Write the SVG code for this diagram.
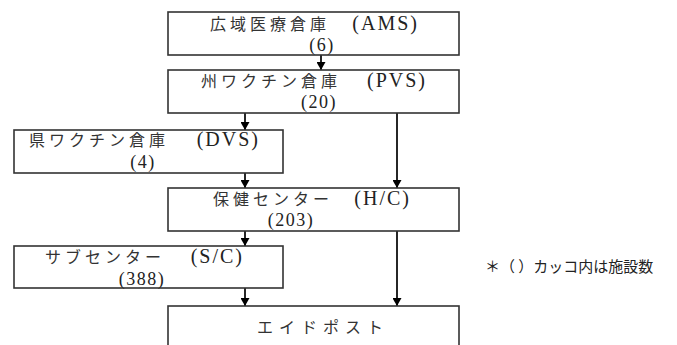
<svg xmlns="http://www.w3.org/2000/svg" width="677" height="345" viewBox="0 0 677 345">
<style>
.box{fill:#fff;stroke:#333;stroke-width:1.6}
.j{font-family:"Noto Sans CJK JP","Noto Sans CJK SC",sans-serif;font-size:16px;letter-spacing:4px;fill:#333}
.k{font-family:"Noto Sans CJK JP","Noto Sans CJK SC",sans-serif;font-size:16px;letter-spacing:6px;fill:#333}
.l{font-family:"Liberation Serif",serif;font-size:20px;letter-spacing:2px;fill:#222;text-anchor:end}
.d{font-family:"Liberation Serif",serif;font-size:18px;letter-spacing:1.5px;fill:#222;text-anchor:middle}
.n{font-family:"Noto Sans CJK JP","Noto Sans CJK SC",sans-serif;font-size:15px;fill:#222}
.c{stroke:#000;stroke-width:1.7;fill:none;marker-end:url(#ah)}
</style>
<defs>
<marker id="ah" markerUnits="userSpaceOnUse" markerWidth="8" markerHeight="9" viewBox="0 0 8 9" refX="8" refY="4.5" orient="auto">
<path d="M0,0 L8,4.5 L0,9 Z" fill="#000"/>
</marker>
</defs>
<rect width="677" height="345" fill="#fff"/>
<g id="connectors">
<line class="c" x1="321" y1="55" x2="321" y2="70"/>
<line class="c" x1="245" y1="113" x2="245" y2="130"/>
<line class="c" x1="397" y1="113" x2="397" y2="188"/>
<line class="c" x1="245" y1="173" x2="245" y2="188"/>
<line class="c" x1="245" y1="231" x2="245" y2="246"/>
<line class="c" x1="245" y1="288" x2="245" y2="306"/>
<line class="c" x1="397" y1="231" x2="397" y2="306"/>
</g>
<g id="ams">
<rect class="box" x="168" y="12" width="291" height="43"/>
<text class="j" x="210" y="30">広域医療倉庫</text>
<text class="l" x="419" y="30">(AMS)</text>
<text class="d" x="322" y="51">(6)</text>
</g>
<g id="pvs">
<rect class="box" x="168" y="70" width="291" height="43"/>
<text class="j" x="201" y="87">州ワクチン倉庫</text>
<text class="l" x="427" y="87">(PVS)</text>
<text class="d" x="319" y="108">(20)</text>
</g>
<g id="dvs">
<rect class="box" x="14" y="130" width="269" height="43"/>
<text class="j" x="29" y="146">県ワクチン倉庫</text>
<text class="l" x="260" y="146">(DVS)</text>
<text class="d" x="143" y="168">(4)</text>
</g>
<g id="hc">
<rect class="box" x="168" y="188" width="291" height="43"/>
<text class="j" x="213" y="205">保健センター</text>
<text class="l" x="411" y="205">(H/C)</text>
<text class="d" x="291" y="226">(203)</text>
</g>
<g id="sc">
<rect class="box" x="14" y="246" width="269" height="42"/>
<text class="j" x="45" y="263">サブセンター</text>
<text class="l" x="244" y="263">(S/C)</text>
<text class="d" x="142" y="285">(388)</text>
</g>
<g id="aid">
<rect class="box" x="168" y="306" width="291" height="60"/>
<text class="k" x="257" y="333">エイドポスト</text>
</g>
<g id="note">
<text class="n" x="485" y="272">＊（ ）カッコ内は施設数</text>
</g>
</svg>
